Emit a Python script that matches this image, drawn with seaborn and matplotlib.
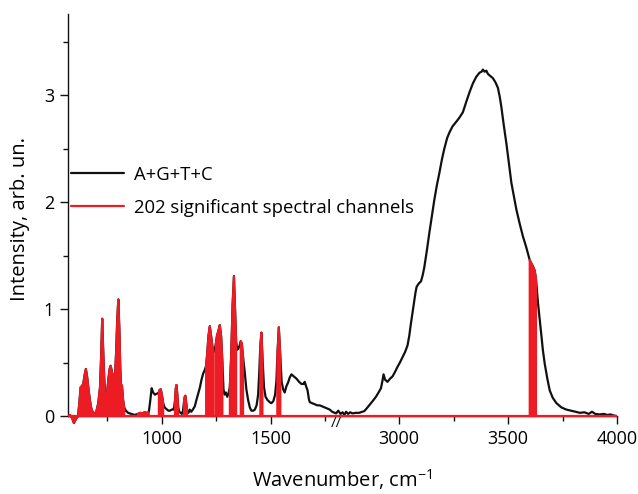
import numpy as np
import matplotlib
matplotlib.use("Agg")
import matplotlib.pyplot as plt
import seaborn as sns
from matplotlib.ticker import FixedLocator, NullFormatter

# ---------------- data ----------------
wavenumber = [
    569, 578, 588, 596, 605, 615, 621, 627, 633, 639, 645, 651, 656, 662, 670, 677, 685, 693,
    700, 708, 716, 721, 726, 730, 735, 740, 743, 748, 754, 760, 765, 770, 776, 784, 790, 795,
    800, 805, 809, 812, 817, 822, 827, 835, 845, 860, 875, 890, 900, 910, 920, 930, 940, 947,
    953, 960, 968, 978, 986, 990, 995, 1000, 1006, 1013, 1021, 1030, 1037, 1045, 1052, 1056,
    1060, 1064, 1067, 1071, 1075, 1080, 1086, 1092, 1097, 1102, 1105, 1108, 1112, 1116, 1122,
    1128, 1135, 1142, 1151, 1160, 1167, 1175, 1182, 1190, 1197, 1203, 1208, 1214, 1220, 1226,
    1232, 1238, 1243, 1248, 1253, 1260, 1266, 1272, 1278, 1283, 1288, 1294, 1300, 1306, 1312,
    1318, 1325, 1331, 1336, 1341, 1346, 1351, 1357, 1362, 1367, 1373, 1381, 1388, 1396, 1404,
    1411, 1420, 1427, 1435, 1442, 1447, 1452, 1457, 1462, 1469, 1476, 1485, 1495, 1503, 1512,
    1520, 1526, 1530, 1537, 1544, 1550, 1557, 1564, 1572, 1579, 1587, 1595, 1606, 1618, 1630,
    1641, 1650, 1656, 1662, 1669, 1675, 1679, 1690, 1702, 1714, 1725, 1737, 1748, 1760, 1771,
    1782, 1794, 1800,
    2710, 2720, 2730, 2740, 2748, 2756, 2765, 2775, 2785, 2800, 2816, 2830, 2839, 2850, 2862,
    2878, 2893, 2905, 2916, 2923, 2928, 2935, 2946, 2958, 2969, 2980, 2992, 3003, 3015, 3027,
    3038, 3046, 3054, 3062, 3069, 3075, 3080, 3090, 3100, 3108, 3115, 3127, 3138, 3150, 3161,
    3172, 3184, 3196, 3207, 3220, 3230, 3245, 3261, 3276, 3292, 3308, 3323, 3338, 3353, 3368,
    3378, 3384, 3392, 3400, 3407, 3418, 3430, 3442, 3453, 3462, 3469, 3480, 3492, 3503, 3515,
    3527, 3538, 3553, 3568, 3583, 3599, 3606, 3614, 3622, 3628, 3637, 3645, 3653, 3660, 3668,
    3680, 3691, 3705, 3722, 3745, 3768, 3790, 3810, 3829, 3850, 3870, 3885, 3900, 3920, 3940,
    3955, 3970, 3985, 3998,
]
intensity = [
    0.00, 0.01, -0.02, -0.065, -0.03, 0.00, 0.12, 0.27, 0.28, 0.30, 0.38, 0.44, 0.38, 0.27, 0.14, 0.06, 0.03, 0.02,
    0.05, 0.12, 0.27, 0.55, 0.91, 0.65, 0.37, 0.17, 0.09, 0.20, 0.34, 0.44, 0.47, 0.42, 0.37, 0.34, 0.60, 0.90,
    1.09, 0.80, 0.45, 0.30, 0.28, 0.15, 0.08, 0.05, 0.03, 0.02, 0.01, 0.02, 0.03, 0.025, 0.035, 0.03, 0.035, 0.15,
    0.26, 0.22, 0.20, 0.21, 0.22, 0.245, 0.25, 0.20, 0.12, 0.08, 0.065, 0.05, 0.05, 0.06, 0.06, 0.08,
    0.14, 0.26, 0.29, 0.20, 0.08, 0.04, 0.03, 0.02, 0.05, 0.14, 0.18, 0.19, 0.12, 0.05, 0.03,
    0.06, 0.04, 0.06, 0.09, 0.16, 0.21, 0.27, 0.34, 0.40, 0.43, 0.47, 0.58, 0.75, 0.84, 0.75,
    0.65, 0.60, 0.62, 0.68, 0.75, 0.80, 0.85, 0.75, 0.50, 0.25, 0.20, 0.22, 0.18, 0.21, 0.27,
    0.55, 1.05, 1.31, 1.00, 0.70, 0.62, 0.63, 0.66, 0.70, 0.68, 0.55, 0.40, 0.25, 0.15, 0.08,
    0.05, 0.05, 0.06, 0.10, 0.20, 0.40, 0.65, 0.78, 0.55, 0.27, 0.18, 0.15, 0.13, 0.12, 0.14,
    0.20, 0.33, 0.55, 0.83, 0.55, 0.32, 0.25, 0.22, 0.28, 0.31, 0.36, 0.39, 0.37, 0.35, 0.32,
    0.30, 0.30, 0.32, 0.28, 0.24, 0.16, 0.13, 0.12, 0.11, 0.10, 0.10, 0.09, 0.08, 0.07, 0.06,
    0.04, 0.03, 0.02,
    0.03, 0.05, 0.02, 0.035, 0.01, 0.04, 0.02, 0.035, 0.025, 0.03, 0.03, 0.04, 0.045, 0.07, 0.10,
    0.14, 0.18, 0.22, 0.26, 0.33, 0.39, 0.34, 0.32, 0.35, 0.37, 0.41, 0.46, 0.50, 0.55, 0.60,
    0.66, 0.75, 0.87, 0.98, 1.08, 1.16, 1.21, 1.24, 1.26, 1.32, 1.39, 1.55, 1.71, 1.87, 2.02,
    2.15, 2.27, 2.40, 2.50, 2.60, 2.65, 2.71, 2.75, 2.79, 2.84, 2.94, 3.03, 3.11, 3.17, 3.21,
    3.22, 3.24, 3.22, 3.23, 3.20, 3.18, 3.16, 3.12, 3.07, 2.98, 2.89, 2.72, 2.55, 2.37, 2.18,
    2.05, 1.93, 1.80, 1.68, 1.58, 1.46, 1.43, 1.40, 1.36, 1.28, 1.06, 0.90, 0.74, 0.61, 0.49,
    0.35, 0.24, 0.17, 0.12, 0.08, 0.06, 0.05, 0.04, 0.03, 0.035, 0.02, 0.04, 0.02, 0.015, 0.02,
    0.01, 0.015, 0.005, 0.00,
]
# wavenumber ranges of the significant channels (red)
significant_ranges = [
    (569, 827), (890, 940), (986, 1006), (1060, 1075), (1102, 1116), (1203, 1238),
    (1248, 1278), (1312, 1341), (1362, 1373), (1452, 1462), (1530, 1544), (3599, 3628),
]
x_major = [1000, 1500, 3000, 3500, 4000]
x_minor = [750, 1250, 1750, 3250, 3750]
y_major = [0, 1, 2, 3]
y_minor = [0.5, 1.5, 2.5, 3.5]
label_black = "A+G+T+C"
label_red = "202 significant spectral channels"

BREAK_LO, BREAK_HI = 1800, 2710
RED = "#ed1c24"
BLACK = "#111111"

# ---------------- plot ----------------
sns.set_theme(style="ticks")
plt.rcParams["font.family"] = ["Open Sans", "DejaVu Sans"]
plt.rcParams["mathtext.default"] = "regular"


def fwd(x):
    x = np.asarray(x, float)
    return np.where(x <= BREAK_LO, x,
                    np.where(x >= BREAK_HI, x - (BREAK_HI - BREAK_LO), BREAK_LO))


def inv(u):
    u = np.asarray(u, float)
    return np.where(u <= BREAK_LO, u, u + (BREAK_HI - BREAK_LO))


w = np.array(wavenumber, float)
v = np.array(intensity, float)
mask = np.zeros(len(w), bool)
for a, b in significant_ranges:
    mask |= (w >= a) & (w <= b)

fig = plt.figure(figsize=(6.38, 4.94), dpi=100)
ax = fig.add_axes([0.1066, 0.1405, 0.8605, 0.8312])
ax.set_xscale("function", functions=(fwd, inv))

sns.lineplot(x=w, y=v, ax=ax, color=BLACK, lw=1.6, sort=False, zorder=2)
black_handle = ax.lines[-1]
ax.fill_between(w, 0, v, where=mask, facecolor=RED, edgecolor=RED, lw=1.5, zorder=3)
red_handle = ax.axhline(0, color=RED, lw=1.6, zorder=4)

ax.set_xlim(569, 4000)
ax.set_ylim(-0.08, 3.76)

sns.despine(ax=ax)
ax.spines["bottom"].set_position(("data", 0))
ax.spines["left"].set_bounds(0, 3.76)
for s in ("left", "bottom"):
    ax.spines[s].set_linewidth(1.0)
    ax.spines[s].set_color(BLACK)

ax.xaxis.set_major_locator(FixedLocator(x_major))
ax.xaxis.set_minor_locator(FixedLocator(x_minor))
ax.xaxis.set_minor_formatter(NullFormatter())
ax.set_xticklabels([str(t) for t in x_major])
ax.yaxis.set_major_locator(FixedLocator(y_major))
ax.yaxis.set_minor_locator(FixedLocator(y_minor))
ax.set_yticklabels([str(t) for t in y_major])
ax.tick_params(axis="both", which="major", direction="out", length=6, width=1.0,
               labelsize=13, color=BLACK, labelcolor="black", pad=4)
ax.tick_params(axis="both", which="minor", direction="out", length=3.5, width=1.0, color=BLACK)

ax.set_xlabel("Wavenumber, cm$^{-1}$", fontsize=14.5, color="black", labelpad=14)
ax.set_ylabel("Intensity, arb. un.", fontsize=14.5, color="black", labelpad=10)

# axis-break marks
ax.text(BREAK_LO, 0, "//", transform=ax.transData, ha="center", va="top",
        fontsize=11, color=BLACK, zorder=5)

leg = ax.legend([black_handle, red_handle], [label_black, label_red], loc="upper left",
                bbox_to_anchor=(0.005, 0.63), frameon=False, fontsize=13.3,
                handlelength=2.9, handletextpad=0.5, labelspacing=0.8, borderpad=0,
                borderaxespad=0)
for t in leg.get_texts():
    t.set_color("black")

fig.savefig("out.png", dpi=100)
